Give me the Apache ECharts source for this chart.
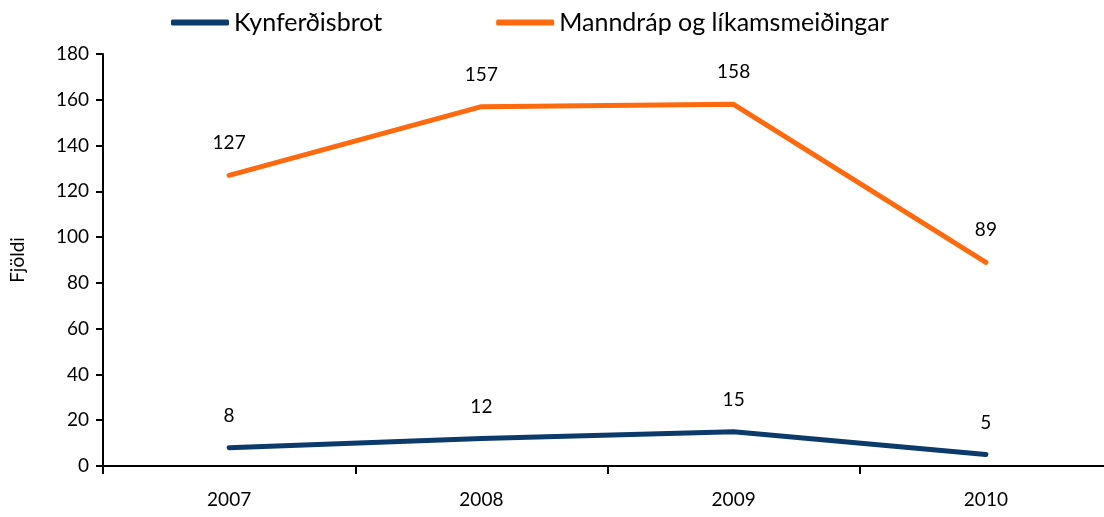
<!DOCTYPE html>
<html><head><meta charset="utf-8">
<script src="https://cdn.jsdelivr.net/npm/echarts@6/dist/echarts.min.js"></script>
<style>html,body{margin:0;padding:0;background:#fff;overflow:hidden;width:1104px;height:517px}#c{width:1112px;height:517px}</style>
</head><body><div id="c"></div>
<script>
const years = ['2007', '2008', '2009', '2010'];
const kynferdisbrot = [8, 12, 15, 5];
const manndrap = [127, 157, 158, 89];
const yTicks = [0, 20, 40, 60, 80, 100, 120, 140, 160, 180];

const font = 'Lato, "Open Sans", sans-serif';
const chart = echarts.init(document.getElementById('c'));
const labelStyle = { show: true, position: 'top', distance: 22, color: '#000', fontSize: 19, fontFamily: font };
chart.setOption({
  animation: false,
  textStyle: { fontFamily: font },
  legend: {
    top: 5, left: 166,
    itemWidth: 58, itemHeight: 6, itemGap: 114,
    icon: 'roundRect',
    textStyle: { fontSize: 25, color: '#000', fontFamily: font },
    data: ['Kynferðisbrot', 'Manndráp og líkamsmeiðingar']
  },
  grid: { left: 103, right: 0, top: 54, bottom: 51, containLabel: false },
  xAxis: {
    type: 'category', data: years, boundaryGap: true,
    axisLine: { lineStyle: { color: '#000', width: 2 } },
    axisTick: { show: true, length: 8, lineStyle: { color: '#000', width: 2 } },
    axisLabel: { color: '#000', fontSize: 19, margin: 24, fontFamily: font }
  },
  yAxis: {
    type: 'value', min: yTicks[0], max: yTicks[yTicks.length - 1], interval: 20,
    name: 'Fjöldi', nameLocation: 'middle', nameGap: 76, nameRotate: 90,
    nameTextStyle: { color: '#000', fontSize: 19, fontFamily: font },
    splitLine: { show: false },
    axisLine: { show: true, lineStyle: { color: '#000', width: 2 } },
    axisTick: { show: true, length: 7, lineStyle: { color: '#000', width: 2 } },
    axisLabel: { color: '#000', fontSize: 19, margin: 14, fontFamily: font }
  },
  series: [
    {
      name: 'Kynferðisbrot', type: 'line', data: kynferdisbrot,
      symbol: 'circle', symbolSize: 1, showSymbol: true, color: '#0b3a6b',
      lineStyle: { width: 5, cap: 'round' },
      label: labelStyle
    },
    {
      name: 'Manndráp og líkamsmeiðingar', type: 'line', data: manndrap,
      symbol: 'circle', symbolSize: 1, showSymbol: true, color: '#ff6a0e',
      lineStyle: { width: 5, cap: 'round' },
      label: labelStyle
    }
  ]
});
</script></body></html>
